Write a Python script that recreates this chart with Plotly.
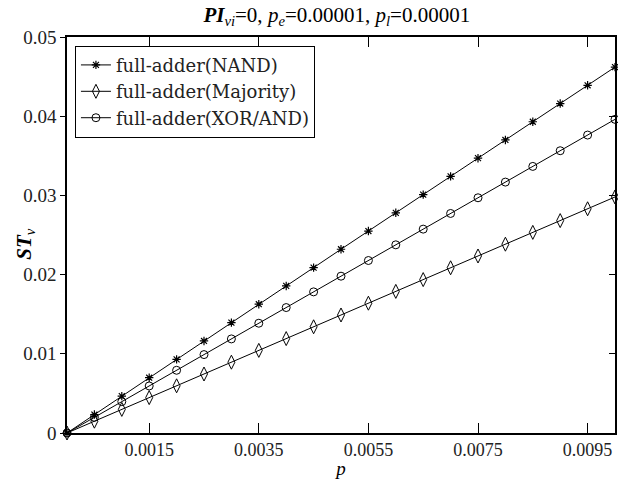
import plotly.graph_objects as go

p = [0.0000, 0.0005, 0.0010, 0.0015, 0.0020, 0.0025, 0.0030, 0.0035, 0.0040, 0.0045,
     0.0050, 0.0055, 0.0060, 0.0065, 0.0070, 0.0075, 0.0080, 0.0085, 0.0090, 0.0095, 0.0100]
nand = [0.0, 0.00233, 0.00466, 0.00698, 0.00930, 0.01162, 0.01394, 0.01626, 0.01857, 0.02088,
        0.02320, 0.02550, 0.02780, 0.03010, 0.03240, 0.03470, 0.03700, 0.03930, 0.04160, 0.04390, 0.04620]
majority = [0.0, 0.00149, 0.00298, 0.00447, 0.00596, 0.00745, 0.00894, 0.01043, 0.01192, 0.01341,
            0.01490, 0.01639, 0.01788, 0.01937, 0.02086, 0.02235, 0.02384, 0.02533, 0.02682, 0.02831, 0.02980]
xor_and = [0.0, 0.00198, 0.00396, 0.00594, 0.00792, 0.00990, 0.01188, 0.01386, 0.01584, 0.01782,
           0.01980, 0.02178, 0.02376, 0.02574, 0.02772, 0.02970, 0.03168, 0.03366, 0.03564, 0.03762, 0.03960]

names = ["full-adder(NAND)", "full-adder(Majority)", "full-adder(XOR/AND)"]
xticks = [0.0015, 0.0035, 0.0055, 0.0075, 0.0095]
xticklabels = ["0.0015", "0.0035", "0.0055", "0.0075", "0.0095"]
yticks = [0, 0.01, 0.02, 0.03, 0.04, 0.05]
yticklabels = ["0", "0.01", "0.02", "0.03", "0.04", "0.05"]

FONT = "Liberation Serif"

fig = go.Figure()
fig.add_trace(go.Scatter(x=p, y=nand, name=names[0], mode="lines+markers",
                         line=dict(color="black", width=1),
                         marker=dict(symbol="asterisk-open", size=7, color="black", line=dict(width=1.2, color="black")),
                         cliponaxis=False))
fig.add_trace(go.Scatter(x=p, y=majority, name=names[1], mode="lines+markers",
                         line=dict(color="black", width=1),
                         marker=dict(symbol="diamond-tall-open", size=10, color="black", line=dict(width=1, color="black")),
                         cliponaxis=False))
fig.add_trace(go.Scatter(x=p, y=xor_and, name=names[2], mode="lines+markers",
                         line=dict(color="black", width=1),
                         marker=dict(symbol="circle-open", size=8, color="black", line=dict(width=1, color="black")),
                         cliponaxis=False))
# invisible trace for right-side inside ticks
fig.add_trace(go.Scatter(x=[p[0]], y=[0], yaxis="y2", showlegend=False, mode="markers",
                         marker=dict(opacity=0), hoverinfo="skip"))

fig.update_layout(
    width=618, height=479,
    margin=dict(l=67, r=1, t=37, b=46),
    paper_bgcolor="white", plot_bgcolor="white",
    font=dict(family=FONT, color="#222", size=19),
    title=dict(text="<b><i>PI</i></b><sub><i>vi</i></sub>=0, <i>p</i><sub><i>e</i></sub>=0.00001, <i>p</i><sub><i>l</i></sub>=0.00001",
               x=0.545, xanchor="center", y=0.985, yanchor="top", font=dict(family=FONT, size=21, color="black")),
    xaxis=dict(range=[0, 0.01], tickvals=xticks, ticktext=xticklabels, ticks="inside", ticklen=10,
               tickwidth=1, tickcolor="black", showline=True, linecolor="black", linewidth=1.5,
               mirror="ticks", showgrid=False, zeroline=False, tickfont=dict(size=18),
               title=dict(text="<i>p</i>", standoff=4, font=dict(family=FONT, size=19, color="black"))),
    yaxis=dict(range=[0, 0.05], tickvals=yticks, ticktext=yticklabels, ticks="outside", ticklen=5,
               tickwidth=1, tickcolor="black", showline=True, linecolor="black", linewidth=1.5,
               mirror=True, showgrid=False, zeroline=False, tickfont=dict(size=19)),
    yaxis2=dict(range=[0, 0.05], overlaying="y", side="right", tickvals=yticks, ticks="inside", ticklen=6,
                tickwidth=1, tickcolor="black", showticklabels=False, showgrid=False, zeroline=False,
                showline=False),
    legend=dict(x=0.0145, y=0.978, xanchor="left", yanchor="top", bgcolor="white",
                bordercolor="black", borderwidth=1, font=dict(family="DejaVu Serif", size=18, color="#222"),
                tracegroupgap=0, itemwidth=30),
    showlegend=True,
    annotations=[dict(text="<b><i>ST</i></b><sub><i>v</i></sub>", xref="paper", yref="paper",
                      x=-0.076, y=0.479, xanchor="center", yanchor="middle", textangle=-90,
                      showarrow=False, font=dict(family=FONT, size=21, color="black"))],
)

fig.write_html("out.html")
